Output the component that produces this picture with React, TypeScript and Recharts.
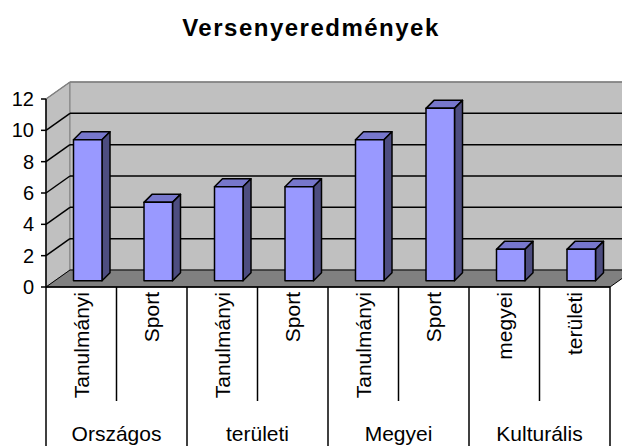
import { BarChart, Bar, XAxis, YAxis } from 'recharts'

const categories = ['Tanulmányi', 'Sport', 'Tanulmányi', 'Sport', 'Tanulmányi', 'Sport', 'megyei', 'területi']
const groups = ['Országos', 'Országos', 'területi', 'területi', 'Megyei', 'Megyei', 'Kulturális', 'Kulturális']
const values = [9, 5, 6, 6, 9, 11, 2, 2]
const yTicks = [0, 2, 4, 6, 8, 10, 12]

const data = categories.map((name, i) => ({ id: String(i), name, group: groups[i], value: values[i] }))

// layout of the front plane (= recharts plot area)
const W = 622
const H = 446
const PL = 46
const PR = 610
const PT = 99
const PB = 287
// depth of the walls, offset of the bars inside the box, depth of a bar
const DX = 24
const DY = -17
const BDX = 6.5
const BDY = -6.3
const SDX = 8
const SDY = -8

const FONT = '"Liberation Sans", Arial, sans-serif'
const yOf = (v: number) => PB - ((PB - PT) * v) / 12

const Walls = () => {
  const pts = (arr: number[][]) => arr.map(p => p.join(',')).join(' ')
  return (
    <g>
      <polygon points={pts([[PL, PB], [PL, PT], [PL + DX, PT + DY], [PL + DX, PB + DY]])} fill="#c0c0c0" stroke="#808080" />
      <polygon points={pts([[PL + DX, PT + DY], [PR + DX, PT + DY], [PR + DX, PB + DY], [PL + DX, PB + DY]])} fill="#c0c0c0" stroke="#808080" />
      <polygon points={pts([[PL, PB], [PR, PB], [PR + DX, PB + DY], [PL + DX, PB + DY]])} fill="#808080" stroke="#000" />
      {yTicks.filter(v => v > 0).map(v => (
        <g key={v}>
          <line x1={PL} y1={yOf(v)} x2={PL + DX} y2={yOf(v) + DY} stroke={v === 12 ? '#808080' : '#000'} strokeWidth={1.5} />
          <line x1={PL + DX} y1={yOf(v) + DY} x2={PR + DX} y2={yOf(v) + DY} stroke={v === 12 ? '#808080' : '#000'} strokeWidth={1.5} />
        </g>
      ))}
    </g>
  )
}

const Bar3D = (props: any) => {
  const { x, y, width, height } = props
  if (height == null || width == null) return null
  const fx = x + BDX
  const fy = y + BDY
  return (
    <g stroke="#000" strokeWidth={1.5} strokeLinejoin="round">
      <polygon
        points={`${fx},${fy} ${fx + width},${fy} ${fx + width + SDX},${fy + SDY} ${fx + SDX},${fy + SDY}`}
        fill="#7777cc"
      />
      <polygon
        points={`${fx + width},${fy} ${fx + width + SDX},${fy + SDY} ${fx + width + SDX},${fy + height + SDY} ${fx + width},${fy + height}`}
        fill="#4d4d80"
      />
      <rect x={fx} y={fy} width={width} height={height} fill="#9999ff" />
    </g>
  )
}

const CategoryTick = (props: any) => {
  const { x, index } = props
  const bw = (PR - PL) / categories.length
  const first = index === 0 || groups[index] !== groups[index - 1]
  const last = index === categories.length - 1
  return (
    <g>
      <line x1={x - bw / 2} x2={x - bw / 2} y1={PB} y2={first ? H : 401} stroke="#000" strokeWidth={1.5} />
      {last && <line x1={x + bw / 2} x2={x + bw / 2} y1={PB} y2={H} stroke="#000" strokeWidth={1.5} />}
      <text
        x={x}
        y={292}
        dy="0.35em"
        textAnchor="end"
        transform={`rotate(-90, ${x}, 292)`}
        fontFamily={FONT}
        fontSize={21}
        fill="#000"
      >
        {categories[index]}
      </text>
      {first && (
        <text x={x + bw / 2} y={441} textAnchor="middle" fontFamily={FONT} fontSize={21} fill="#000">
          {groups[index]}
        </text>
      )}
    </g>
  )
}

const ValueTick = (props: any) => {
  const { y, payload } = props
  return (
    <text x={34} y={y} dy="0.35em" textAnchor="end" fontFamily={FONT} fontSize={20} fill="#000">
      {payload.value}
    </text>
  )
}

const App = () => {
  return (
    <div style={{ position: 'absolute', left: 0, top: 0, width: W, height: H, background: '#fff' }}>
      <div
        style={{
          position: 'absolute', left: 0, top: 16, width: W, textAlign: 'center', lineHeight: '24px',
          fontFamily: FONT, fontWeight: 'bold', fontSize: 24, letterSpacing: 1.5,
        }}
      >
        Versenyeredmények
      </div>
      <BarChart
        width={W}
        height={H}
        data={data}
        margin={{ top: PT, right: W - PR, left: 0, bottom: 0 }}
        barSize={28.5}
      >
        <Walls />
        <XAxis
          dataKey="id"
          height={H - PB}
          interval={0}
          tick={<CategoryTick />}
          tickLine={false}
          axisLine={{ stroke: '#000', strokeWidth: 1.5 }}
        />
        <YAxis
          width={PL}
          domain={[0, 12]}
          ticks={yTicks}
          interval={0}
          tickSize={5}
          tick={<ValueTick />}
          tickLine={{ stroke: '#000', strokeWidth: 1.5 }}
          axisLine={{ stroke: '#000', strokeWidth: 1.5 }}
        />
        <Bar dataKey="value" shape={<Bar3D />} isAnimationActive={false} />
      </BarChart>
    </div>
  )
}

export default App
